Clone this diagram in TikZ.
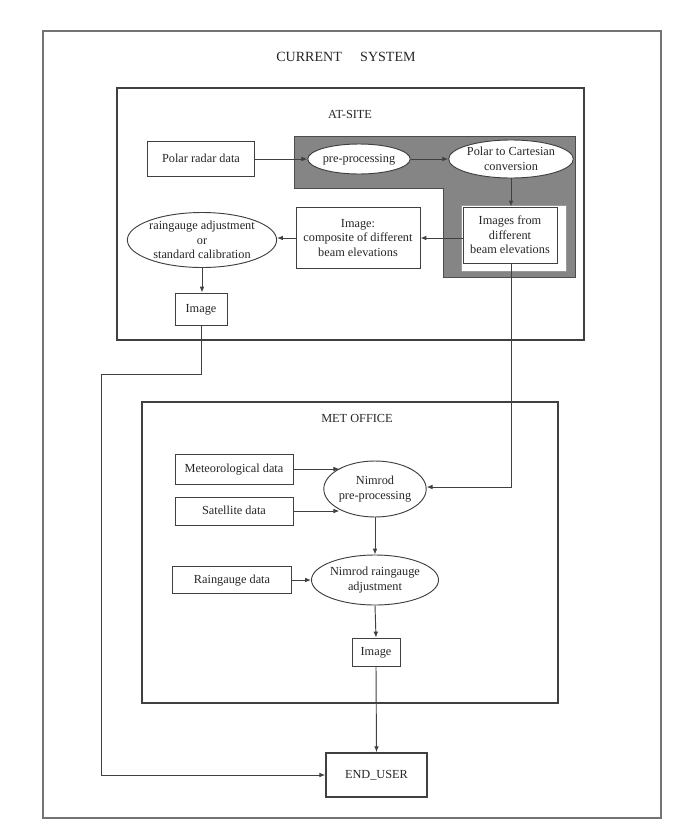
\documentclass[tikz,border=0pt]{standalone}
\usepackage{fontspec}
\setmainfont{Liberation Serif}
\usetikzlibrary{shapes.geometric,arrows.meta}
\begin{document}
\begin{tikzpicture}[x=0.03cm,y=-0.03cm,
  txt/.style={font=\fontsize{10.5}{12.5}\selectfont, text=black!85, align=center, inner sep=0pt},
  one/.style={text height=6.5pt, text depth=0pt},
  boxn/.style={txt, draw=black!75, line width=0.8pt, rectangle, fill=white},
  ell/.style={txt, draw=black!75, line width=0.8pt, ellipse, fill=white},
  conn/.style={draw=black!75, line width=0.8pt},
  arr/.style={conn, -{Latex[length=5pt,width=4pt]}},
  region/.style={draw=black!75, line width=1.6pt}]
\useasboundingbox (0,0) rectangle (682,836);
\fill[white] (0,0) rectangle (682,836);
% outer frame
\draw[draw=black!55, line width=0.9pt] (43,31) rectangle (661,818);
\node[txt, one, font=\fontsize{12}{14}\selectfont] (title) at (346,58) {CURRENT\hspace{1.3em}SYSTEM};
% AT-SITE
\draw[region] (117,88) rectangle (584,340);
\node[txt, one] (atsite) at (350,115) {AT-SITE};
\filldraw[fill=black!48, draw=black!70, line width=0.8pt] (294,136) -- (575,136) -- (575,277) -- (443,277) -- (443,188) -- (294,188) -- cycle;
\node[boxn, one, minimum width=107*0.03cm, minimum height=35*0.03cm] (polar) at (201,159) {Polar radar data};
\node[ell, one, minimum width=102*0.03cm, minimum height=30*0.03cm] (pre) at (359,159) {pre-processing};
\node[ell, minimum width=114*0.03cm, minimum height=38*0.03cm] (p2c) at (511,159) {Polar to Cartesian\\conversion};
\filldraw[fill=white, draw=black!40, line width=0.6pt] (461,205) rectangle (566,271);
\node[boxn, minimum width=94*0.03cm, minimum height=56*0.03cm] (images) at (510,235) {Images from\\different\\beam elevations};
\node[boxn, minimum width=124*0.03cm, minimum height=61*0.03cm] (comp) at (358,238) {Image:\\composite of different\\beam elevations};
\node[ell, minimum width=145*0.03cm, minimum height=55*0.03cm] (rg) at (202,240) {raingauge adjustment\\or\\standard calibration};
\node[boxn, one, minimum width=52*0.03cm, minimum height=32*0.03cm] (img1) at (201,309) {Image};
% MET OFFICE
\draw[region] (142,402) rectangle (558,703);
\node[txt, one] (met) at (357,419) {MET OFFICE};
\node[boxn, one, minimum width=118*0.03cm, minimum height=30*0.03cm] (metd) at (234,469) {Meteorological data};
\node[boxn, one, minimum width=118*0.03cm, minimum height=28*0.03cm] (sat) at (234,511) {Satellite data};
\node[ell, minimum width=102*0.03cm, minimum height=56*0.03cm] (nimpre) at (375,489) {Nimrod\\pre-processing};
\node[boxn, one, minimum width=119*0.03cm, minimum height=27*0.03cm] (raind) at (232,580) {Raingauge data};
\node[ell, minimum width=115*0.03cm, minimum height=50*0.03cm] (nimrain) at (375,580) {Nimrod raingauge\\adjustment};
\node[boxn, one, minimum width=48*0.03cm, minimum height=28*0.03cm] (img2) at (376,652) {Image};
\node[boxn, one, line width=1.4pt, minimum width=101*0.03cm, minimum height=44*0.03cm] (end) at (376.5,775) {END\_USER};
% connectors
\draw[arr] (polar.east) -- (pre.west);
\draw[arr] (pre.east) -- (p2c.west);
\draw[arr] (p2c.south) -- (images.north -| p2c.south);
\draw[arr] (images.west |- comp.east) -- (comp.east);
\draw[arr] (comp.west) -- (rg.east |- comp.west);
\draw[arr] (rg.south) -- (rg.south |- img1.north);
\coordinate (c1) at (201,374);
\coordinate (c2) at (101,374);
\coordinate (c3) at (101,775);
\draw[arr] (img1.south) -- (c1) -- (c2) -- (c3) -- (end.west);
\coordinate (d1) at (511,487);
\draw[arr] (images.south -| d1) -- (d1) -- (nimpre.east |- d1);
\draw[arr] (metd.east) -- (nimpre.150 |- metd.east);
\draw[arr] (sat.east) -- (nimpre.210 |- sat.east);
\draw[arr] (nimpre.south) -- (nimrain.north);
\draw[arr] (raind.east) -- (nimrain.west);
\draw[arr] (nimrain.south) -- (img2.north);
\draw[arr] (img2.south) -- (end.north);
\end{tikzpicture}
\end{document}
